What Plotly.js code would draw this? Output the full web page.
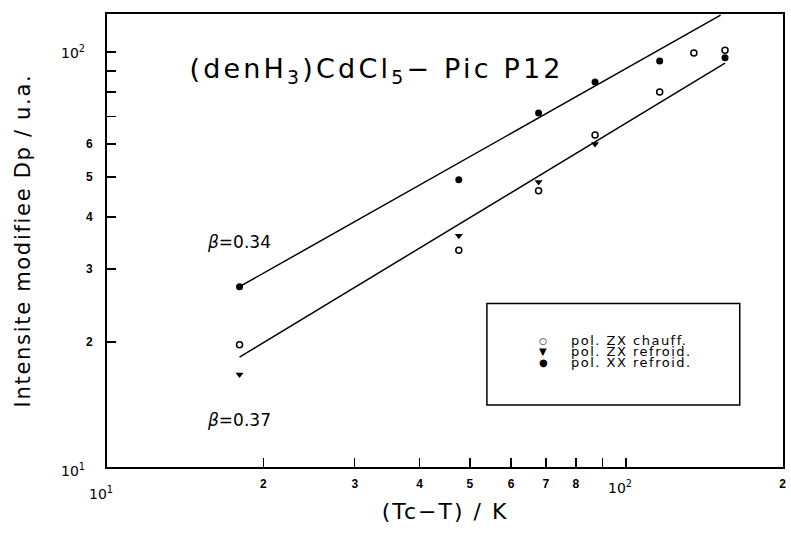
<!DOCTYPE html>
<html>
<head>
<meta charset="utf-8">
<script src="https://cdn.plot.ly/plotly-3.0.1.min.js"></script>
<style>
html,body{margin:0;padding:0;background:#fff;}
#chart{width:791px;height:536px;}
#chart text.xtitle{letter-spacing:2px;}
#chart text.ytitle{letter-spacing:1.7px;}
#chart g.annotation[data-index="0"] text{letter-spacing:3.2px;}
#chart g.annotation[data-index="8"] text,
#chart g.annotation[data-index="10"] text,
#chart g.annotation[data-index="12"] text{letter-spacing:1.5px;}
</style>
</head>
<body>
<div id="chart"></div>
<script>
// Data (log-log)
const chauffX = [18, 47.6, 67.8, 87.1, 116, 135, 155];
const chauffY = [19.7, 33.3, 46.3, 63.1, 80.1, 99.5, 101];
const refroidZX_X = [18, 47.6, 67.8, 87.1];
const refroidZX_Y = [16.7, 36.1, 48.6, 60.0];
const refroidXX_X = [18, 47.6, 67.8, 87.1, 116, 155];
const refroidXX_Y = [27.2, 49.2, 71.3, 84.7, 95.1, 96.8];
const fitUpperX = [18, 152];
const fitUpperY = [27.2, 122.7];
const fitLowerX = [18, 155];
const fitLowerY = [18.4, 94.0];

const xTickVals = [20, 30, 40, 50, 60, 70, 80, 200];
const xTickText = ["2", "3", "4", "5", "6", "7", "8", "2"];
const xMinorVals = [90, 100];
const yTickVals = [20, 30, 40, 50, 60];
const yTickText = ["2", "3", "4", "5", "6"];
const yMinorVals = [70, 80, 90, 100];

const legendNames = ["pol. ZX chauff.", "pol. ZX refroid.", "pol. XX refroid."];
const legendGlyphs = ["○", "▼", "●"];

const TXT = "DejaVu Sans, sans-serif";

const traces = [
  {x: fitUpperX, y: fitUpperY, mode: "lines", line: {color: "#000", width: 1.5}, showlegend: false, hoverinfo: "skip"},
  {x: fitLowerX, y: fitLowerY, mode: "lines", line: {color: "#000", width: 1.5}, showlegend: false, hoverinfo: "skip"},
  {x: chauffX, y: chauffY, mode: "markers", name: legendNames[0], showlegend: false,
   marker: {symbol: "circle-open", size: 6, color: "#000", line: {width: 1.5, color: "#000"}}},
  {x: refroidZX_X, y: refroidZX_Y, mode: "markers", name: legendNames[1], showlegend: false,
   marker: {symbol: "triangle-down", size: 7, color: "#000"}},
  {x: refroidXX_X, y: refroidXX_Y, mode: "markers", name: legendNames[2], showlegend: false,
   marker: {symbol: "circle", size: 7, color: "#000"}}
];

const legendRowsY = [0.279, 0.255, 0.231];
const annotations = [
  {xref: "paper", yref: "paper", x: 0.398, y: 0.876, xanchor: "center", yanchor: "middle", showarrow: false,
   text: "(denH<sub>3</sub>)CdCl<sub>5</sub>− Pic P12", font: {family: TXT, size: 27, color: "#000"}},
  {xref: "paper", yref: "paper", x: 0.145, y: 0.497, xanchor: "left", yanchor: "middle", showarrow: false,
   text: "<i>β</i>=0.34", font: {family: TXT, size: 17, color: "#000"}},
  {xref: "paper", yref: "paper", x: 0.145, y: 0.103, xanchor: "left", yanchor: "middle", showarrow: false,
   text: "<i>β</i>=0.37", font: {family: TXT, size: 17, color: "#000"}},
  // decade labels
  {xref: "paper", yref: "y", x: -0.03, y: 2, xanchor: "right", yanchor: "middle", showarrow: false,
   text: "10<sup>2</sup>", font: {family: TXT, size: 14, color: "#000"}},
  {xref: "paper", yref: "y", x: -0.03, y: 1, yshift: -3, xanchor: "right", yanchor: "middle", showarrow: false,
   text: "10<sup>1</sup>", font: {family: TXT, size: 14, color: "#000"}},
  {xref: "x", yref: "paper", x: 1, xshift: -6, y: -0.033, xanchor: "center", yanchor: "top", showarrow: false,
   text: "10<sup>1</sup>", font: {family: TXT, size: 14, color: "#000"}},
  {xref: "x", yref: "paper", x: 2, xshift: -6, y: -0.02, xanchor: "center", yanchor: "top", showarrow: false,
   text: "10<sup>2</sup>", font: {family: TXT, size: 14, color: "#000"}}
];
for (let i = 0; i < legendNames.length; i++) {
  annotations.push({xref: "paper", yref: "paper", x: 0.645, y: legendRowsY[i], xanchor: "center", yanchor: "middle",
    showarrow: false, text: legendGlyphs[i], font: {family: "DejaVu Sans", size: i === 0 ? 9 : 10, color: "#000"}});
  annotations.push({xref: "paper", yref: "paper", x: 0.684, y: legendRowsY[i], xanchor: "left", yanchor: "middle",
    align: "left", showarrow: false, text: legendNames[i], font: {family: TXT, size: 13, color: "#000"}});
}

const layout = {
  width: 791, height: 536,
  margin: {l: 107, r: 8, t: 14, b: 69},
  paper_bgcolor: "#fff", plot_bgcolor: "#fff",
  showlegend: false,
  xaxis: {
    type: "log", range: [1, 2.302], autorange: false,
    showgrid: false, zeroline: false,
    showline: true, linecolor: "#000", linewidth: 2, mirror: true,
    ticks: "inside", ticklen: 9, tickwidth: 1.5, tickcolor: "#000",
    tickmode: "array", tickvals: xTickVals, ticktext: xTickText,
    minor: {tickmode: "array", tickvals: xMinorVals, ticks: "inside", ticklen: 9, tickwidth: 1.5, tickcolor: "#000", showgrid: false},
    tickfont: {family: "Liberation Sans", size: 12, color: "#000", weight: "bold"},
    ticklabelstandoff: 5,
    title: {text: "(Tc−T) / K", font: {family: TXT, size: 22, color: "#000"}, standoff: 13}
  },
  yaxis: {
    type: "log", range: [1, 2.0916], autorange: false,
    showgrid: false, zeroline: false,
    showline: true, linecolor: "#000", linewidth: 2, mirror: true,
    ticks: "inside", ticklen: 9, tickwidth: 1.5, tickcolor: "#000",
    tickmode: "array", tickvals: yTickVals, ticktext: yTickText,
    minor: {tickmode: "array", tickvals: yMinorVals, ticks: "inside", ticklen: 9, tickwidth: 1.5, tickcolor: "#000", showgrid: false},
    tickfont: {family: "Liberation Sans", size: 12, color: "#000", weight: "bold"},
    ticklabelstandoff: 10,
    title: {text: "Intensite modifiee Dp / u.a.", font: {family: TXT, size: 21, color: "#000"}, standoff: 50}
  },
  shapes: [
    {type: "rect", xref: "paper", yref: "paper", x0: 0.562, x1: 0.936, y0: 0.137, y1: 0.361,
     line: {color: "#000", width: 1.5}, fillcolor: "rgba(0,0,0,0)"}
  ],
  annotations: annotations
};

Plotly.newPlot("chart", traces, layout, {displayModeBar: false, staticPlot: true});
</script>
</body>
</html>
